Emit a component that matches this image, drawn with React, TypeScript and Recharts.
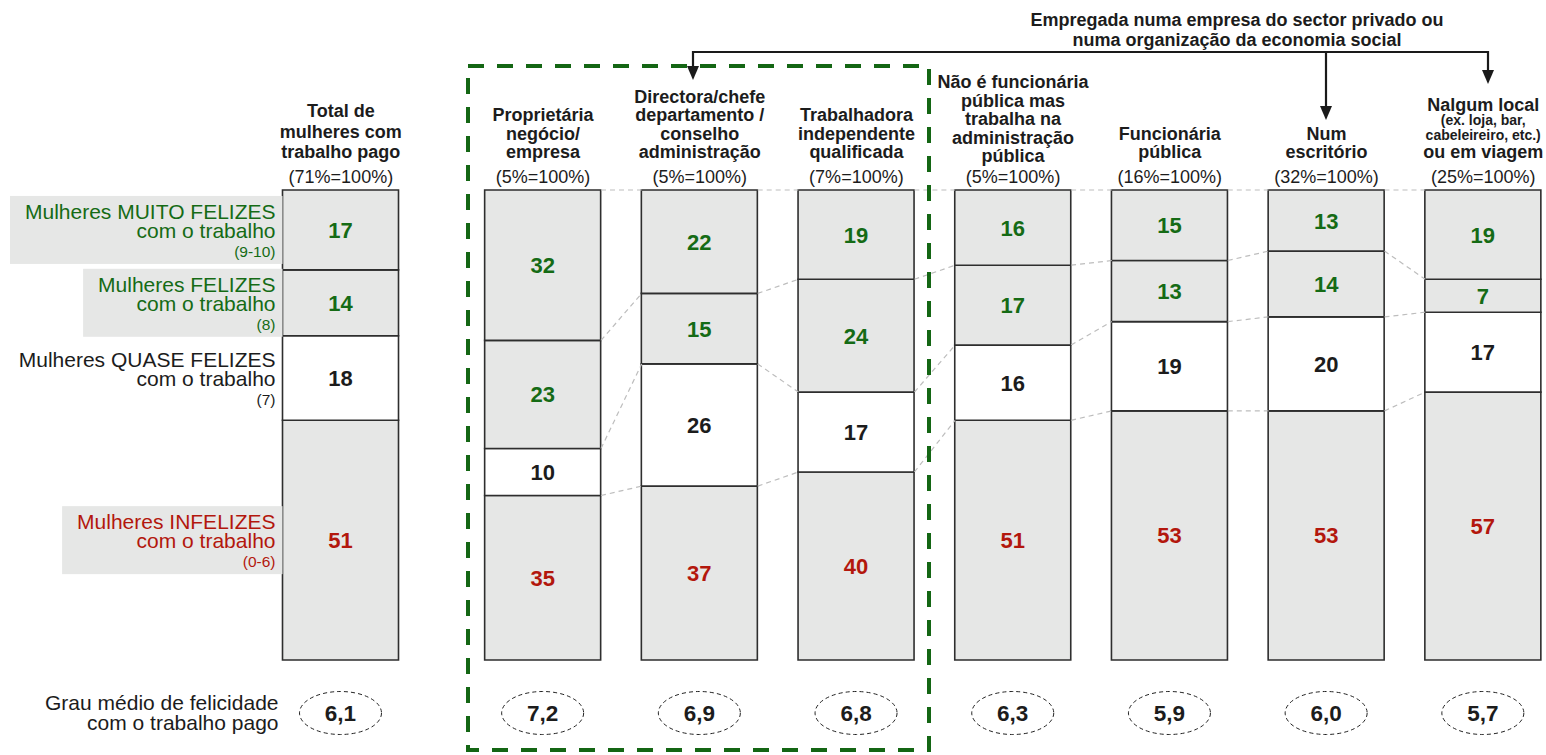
import { BarChart, Bar, XAxis, YAxis, LabelList, ReferenceLine } from 'recharts';

// column headers (one entry per line)
const categories = [
  ['Total de', 'mulheres com', 'trabalho pago'],
  ['Proprietária', 'negócio/', 'empresa'],
  ['Directora/chefe', 'departamento /', 'conselho', 'administração'],
  ['Trabalhadora', 'independente', 'qualificada'],
  ['Não é funcionária', 'pública mas', 'trabalha na', 'administração', 'pública'],
  ['Funcionária', 'pública'],
  ['Num', 'escritório'],
  ['Nalgum local', '(ex. loja, bar,', 'cabeleireiro, etc.)', 'ou em viagem'],
];
const smallLines = ['(ex. loja, bar,', 'cabeleireiro, etc.)'];
const shares = ['71%', '5%', '5%', '7%', '5%', '16%', '32%', '25%'];

const muitoFelizes = [17, 32, 22, 19, 16, 15, 13, 19];
const felizes = [14, 23, 15, 24, 17, 13, 14, 7];
const quaseFelizes = [18, 10, 26, 17, 16, 19, 20, 17];
const infelizes = [51, 35, 37, 40, 51, 53, 53, 57];
const grauMedio = ['6,1', '7,2', '6,9', '6,8', '6,3', '5,9', '6,0', '5,7'];

const legendMuito = ['Mulheres MUITO FELIZES', 'com o trabalho', '(9-10)'];
const legendFelizes = ['Mulheres FELIZES', 'com o trabalho', '(8)'];
const legendQuase = ['Mulheres QUASE FELIZES', 'com o trabalho', '(7)'];
const legendInfelizes = ['Mulheres INFELIZES', 'com o trabalho', '(0-6)'];
const grauLabel = ['Grau médio de felicidade', 'com o trabalho pago'];

const FONT = "'Liberation Sans', Arial, sans-serif";
const GREEN = '#156b15';
const RED = '#b3170d';
const DARK = '#1c1c1c';
const GRAY = '#e6e7e6';

const W = 1546;
const H = 755;
const STEP = 156.7; // px per x unit
const TOTAL_OFFSET = 1.29; // extra gap before the first column
const BAR_SIZE = 116;
const HALF = BAR_SIZE / 2 / STEP;
const X_MIN = -543 / STEP;
const X_MAX = X_MIN + W / STEP;

const positions = categories.map((_, i) => (i === 0 ? -TOTAL_OFFSET : i - 1));

const rows = categories.map((_, i) => ({
  pos: positions[i],
  infelizes: infelizes[i],
  quase: quaseFelizes[i],
  felizes: felizes[i],
  muito: muitoFelizes[i],
}));

// boundaries between segments, top to bottom
const boundaries = rows.map((r) => [100, r.infelizes + r.quase + r.felizes, r.infelizes + r.quase, r.infelizes]);

let ctx: CanvasRenderingContext2D | null = null;
const measure = (t: string, font: string) => {
  if (!ctx) ctx = document.createElement('canvas').getContext('2d');
  if (!ctx) return t.length * 10;
  ctx.font = font;
  return ctx.measureText(t).width;
};

const box = (p: any) => {
  const v = p.viewBox && p.viewBox.width != null ? p.viewBox : p;
  return { x: Number(v.x), y: Number(v.y), width: Number(v.width), height: Number(v.height) };
};

const makeLabel = (color: string, legend: string[], shaded: boolean, bottom = false) => (p: any) => {
  const { x, y, width, height } = box(p);
  const cx = x + width / 2;
  const cy = y + height / 2;
  const parts: any[] = [
    <text key="v" x={cx} y={cy + 8} textAnchor="middle" fill={color} fontSize={22} fontWeight="bold" fontFamily={FONT}>
      {p.value}
    </text>,
  ];
  if (p.index === 0) {
    const right = x - 7;
    const tw = Math.max(measure(legend[0], `21px ${FONT}`), measure(legend[1], `21px ${FONT}`));
    if (shaded) {
      parts.push(<rect key="b" x={right - tw - 15} y={cy - 34} width={tw + 22} height={68} fill={GRAY} />);
    }
    parts.push(
      <text key="l1" x={right} y={cy - 11} textAnchor="end" fill={color} fontSize={21} fontFamily={FONT}>{legend[0]}</text>,
      <text key="l2" x={right} y={cy + 8} textAnchor="end" fill={color} fontSize={21} fontFamily={FONT}>{legend[1]}</text>,
      <text key="l3" x={right} y={cy + 27} textAnchor="end" fill={color} fontSize={15.5} fontFamily={FONT}>{legend[2]}</text>
    );
  }
  if (bottom) {
    const ey = y + height + 53;
    parts.push(
      <g key="e">
        <ellipse cx={cx} cy={ey} rx={41} ry={21.5} fill="none" stroke="#222" strokeWidth={1} strokeDasharray="4 3" />
        <text x={cx} y={ey + 8} textAnchor="middle" fill={DARK} fontSize={22.5} fontWeight="bold" fontFamily={FONT}>
          {grauMedio[p.index]}
        </text>
      </g>
    );
    if (p.index === 0) {
      parts.push(
        <text key="g1" x={x - 4} y={ey - 3} textAnchor="end" fill={DARK} fontSize={21} fontFamily={FONT}>{grauLabel[0]}</text>,
        <text key="g2" x={x - 4} y={ey + 17} textAnchor="end" fill={DARK} fontSize={21} fontFamily={FONT}>{grauLabel[1]}</text>
      );
    }
  }
  return <g>{parts}</g>;
};

const CategoryTick = (props: any) => {
  const { x, y, payload } = props;
  let idx = 0;
  positions.forEach((p, i) => {
    if (Math.abs(p - payload.value) < Math.abs(positions[idx] - payload.value)) idx = i;
  });
  const lines = categories[idx];
  const lh = idx === 0 ? 20.5 : 18.5;
  let base = y - (lines.length >= 5 ? 28 : 32);
  const items: any[] = [];
  for (let k = lines.length - 1; k >= 0; k--) {
    const small = smallLines.includes(lines[k]);
    items.push(
      <text key={k} x={x} y={base} textAnchor="middle" fill={DARK} fontSize={small ? 14 : 18} fontWeight="bold" fontFamily={FONT}>
        {lines[k]}
      </text>
    );
    base -= small ? 14.5 : lh;
  }
  return (
    <g>
      {items}
      <text x={x} y={y - 7} textAnchor="middle" fill={DARK} fontSize={18} fontFamily={FONT}>
        ({shares[idx]}=100%)
      </text>
    </g>
  );
};

const connectors: any[] = [];
for (let i = 1; i < rows.length - 1; i++) {
  for (let b = 0; b < 4; b++) {
    connectors.push(
      <ReferenceLine
        key={`c${i}-${b}`}
        segment={[
          { x: positions[i] + HALF, y: boundaries[i][b] },
          { x: positions[i + 1] - HALF, y: boundaries[i + 1][b] },
        ]}
        stroke="#bdbdbd"
        strokeWidth={1.2}
        strokeDasharray="5 4"
      />
    );
  }
}

const Arrow = ({ x, y1, y2 }: { x: number; y1: number; y2: number }) => (
  <g>
    <line x1={x} y1={y1} x2={x} y2={y2 - 12} stroke="#1a1a1a" strokeWidth={2.2} />
    <polygon points={`${x - 6},${y2 - 14} ${x + 6},${y2 - 14} ${x},${y2}`} fill="#1a1a1a" />
  </g>
);

export default function App() {
  return (
    <div style={{ position: 'absolute', left: 0, top: 0, width: W, height: H, background: '#fff' }}>
      <BarChart width={W} height={H} data={rows} margin={{ top: 0, right: 0, bottom: 95, left: 0 }}>
        <XAxis
          dataKey="pos"
          type="number"
          orientation="top"
          height={190}
          domain={[X_MIN, X_MAX]}
          ticks={positions}
          interval={0}
          axisLine={false}
          tickLine={false}
          tickSize={0}
          tickMargin={0}
          tick={<CategoryTick />}
        />
        <YAxis hide type="number" domain={[0, 100]} />
        {connectors}
        <Bar dataKey="infelizes" stackId="a" fill={GRAY} stroke="#2e2e2e" strokeWidth={1.6} barSize={BAR_SIZE} isAnimationActive={false}>
          <LabelList dataKey="infelizes" content={makeLabel(RED, legendInfelizes, true, true)} />
        </Bar>
        <Bar dataKey="quase" stackId="a" fill="#ffffff" stroke="#2e2e2e" strokeWidth={1.6} barSize={BAR_SIZE} isAnimationActive={false}>
          <LabelList dataKey="quase" content={makeLabel(DARK, legendQuase, false)} />
        </Bar>
        <Bar dataKey="felizes" stackId="a" fill={GRAY} stroke="#2e2e2e" strokeWidth={1.6} barSize={BAR_SIZE} isAnimationActive={false}>
          <LabelList dataKey="felizes" content={makeLabel(GREEN, legendFelizes, true)} />
        </Bar>
        <Bar dataKey="muito" stackId="a" fill={GRAY} stroke="#2e2e2e" strokeWidth={1.6} barSize={BAR_SIZE} isAnimationActive={false}>
          <LabelList dataKey="muito" content={makeLabel(GREEN, legendMuito, true)} />
        </Bar>
      </BarChart>
      <svg width={W} height={H} style={{ position: 'absolute', left: 0, top: 0, pointerEvents: 'none' }}>
        <rect x={468} y={66} width={461} height={684} fill="none" stroke="#146614" strokeWidth={4} strokeDasharray="16 13" />
        <text textAnchor="middle" fill={DARK} fontSize={18} fontWeight="bold" fontFamily={FONT}>
          <tspan x={1237} y={26}>Empregada numa empresa do sector privado ou</tspan>
          <tspan x={1237} y={46}>numa organização da economia social</tspan>
        </text>
        <line x1={692} y1={52} x2={1489} y2={52} stroke="#1a1a1a" strokeWidth={2.2} />
        <Arrow x={693} y1={51} y2={80} />
        <Arrow x={1326} y1={51} y2={120} />
        <Arrow x={1488} y1={51} y2={84} />
      </svg>
    </div>
  );
}
